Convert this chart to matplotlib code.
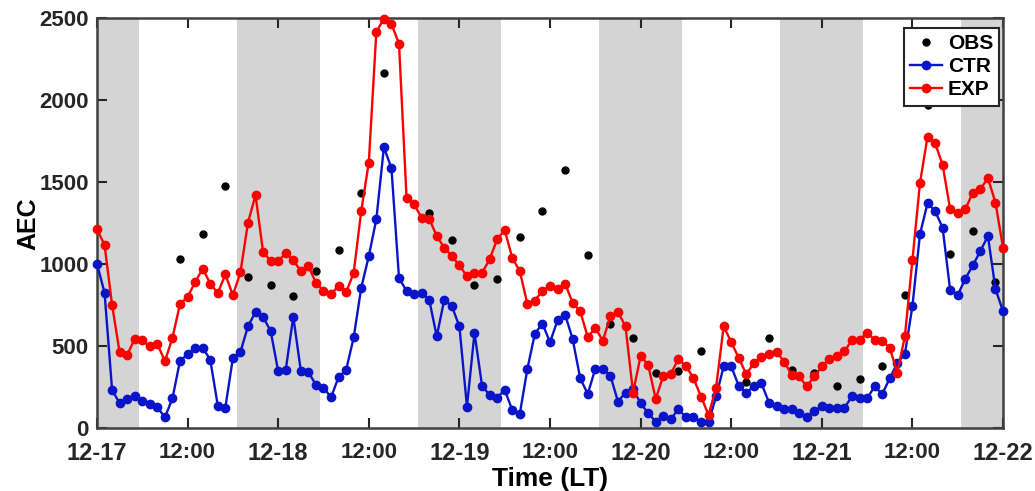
import numpy as np
import matplotlib.pyplot as plt

# hourly AEC values from 12-17 00:00 to 12-22 00:00 (local time)
hours = np.arange(0, 121)

exp_values = [1213, 1119, 753, 463, 447, 547, 537, 500, 514, 410,
              553, 759, 801, 891, 973, 883, 824, 938, 812, 951,
              1254, 1421, 1074, 1022, 1022, 1066, 1025, 958, 989, 887,
              840, 820, 867, 830, 948, 1325, 1620, 2415, 2496, 2464,
              2344, 1406, 1365, 1284, 1278, 1172, 1101, 1050, 993, 928,
              944, 948, 1030, 1152, 1209, 1040, 958, 760, 779, 840,
              867, 850, 883, 765, 714, 557, 612, 535, 683, 710,
              622, 219, 441, 388, 180, 320, 333, 423, 382, 306,
              194, 82, 249, 622, 527, 429, 331, 398, 433, 453,
              467, 408, 327, 317, 256, 317, 378, 423, 439, 469,
              541, 541, 582, 541, 535, 490, 341, 561, 1025, 1494,
              1777, 1738, 1606, 1335, 1315, 1335, 1437, 1458, 1525, 1376,
              1101]

ctr_values = [1003, 828, 235, 154, 180, 195, 170, 150, 129, 68,
              184, 413, 451, 492, 492, 419, 140, 127, 429, 466,
              622, 710, 679, 594, 349, 357, 681, 351, 343, 266,
              249, 190, 313, 357, 555, 857, 1050, 1274, 1712, 1586,
              918, 836, 822, 826, 785, 561, 785, 745, 622, 133,
              582, 260, 204, 188, 235, 113, 89, 362, 578, 639,
              525, 659, 694, 545, 306, 210, 364, 364, 322, 164,
              219, 240, 154, 93, 42, 78, 56, 119, 68, 68,
              42, 38, 195, 378, 378, 260, 215, 260, 276, 158,
              137, 119, 119, 93, 68, 108, 135, 123, 127, 127,
              195, 188, 184, 256, 209, 306, 398, 453, 745, 1183,
              1372, 1325, 1223, 842, 812, 912, 993, 1081, 1172, 850,
              714]

# observations are only every 3 hours
obs_hours = [11, 14, 17, 20, 23, 26, 29, 32, 35, 38,
             44, 47, 50, 53, 56, 59, 62, 65, 68, 71,
             74, 77, 80, 86, 89, 92, 95, 98, 101, 104,
             107, 110, 113, 116, 119]
obs_values = [1034, 1183, 1474, 920, 871, 806, 958, 1087, 1437, 2168,
              1315, 1148, 873, 912, 1166, 1327, 1574, 1054, 637, 551,
              341, 351, 471, 286, 551, 357, 337, 261, 302, 378,
              815, 1973, 1060, 1203, 892]

tick_hours = np.arange(0, 121, 12)
tick_labels = ['12-17', '12:00', '12-18', '12:00', '12-19', '12:00',
               '12-20', '12:00', '12-21', '12:00', '12-22']

# night time (grey background)
sunset = 18.5
sunrise = 5.5

plt.rcParams['font.family'] = ['Liberation Sans', 'DejaVu Sans']
plt.rcParams['font.weight'] = 'bold'

fig = plt.figure(figsize=(10.35, 4.91), dpi=100)
ax = fig.add_axes([0.0937, 0.1273, 0.8754, 0.836])

# grey shading for the nights
ax.axvspan(0, sunrise, color='#d4d4d4', lw=0, zorder=0)
for day in range(5):
    start = day * 24 + sunset
    end = min((day + 1) * 24 + sunrise, 120)
    ax.axvspan(start, end, color='#d4d4d4', lw=0, zorder=0)

ax.plot(obs_hours, obs_values, 'o', color='black', ms=5, label='OBS', clip_on=False, zorder=3)
ax.plot(hours, ctr_values, '-o', color='#0a14c8', lw=1.7, ms=6, label='CTR', clip_on=False, zorder=4)
ax.plot(hours, exp_values, '-o', color='#ff0000', lw=1.7, ms=6, label='EXP', clip_on=False, zorder=5)

ax.set_xlim(0, 120)
ax.set_ylim(0, 2500)
ax.set_xticks(tick_hours)
ax.set_xticklabels(tick_labels)
ax.set_yticks(np.arange(0, 2501, 500))

ax.tick_params(direction='in', length=7, width=1.5, top=True, right=True,
               colors='#262626')
ax.tick_params(axis='x', pad=10, labelsize=17)
ax.tick_params(axis='y', pad=6, labelsize=16)
# the 12:00 labels are a little smaller than the dates
for lab in ax.get_xticklabels()[1::2]:
    lab.set_fontsize(16)
for s in ax.spines.values():
    s.set_linewidth(1.8)
    s.set_color('#404040')

ax.set_xlabel('Time (LT)', fontsize=19, fontweight='bold', labelpad=1)
ax.set_ylabel('AEC', fontsize=18, fontweight='bold', labelpad=-1)

leg = ax.legend(loc='upper right', bbox_to_anchor=(0.996, 0.976), fontsize=15,
                frameon=True, fancybox=False, handlelength=1.5, handletextpad=0.3,
                borderpad=0.3, labelspacing=0.2, borderaxespad=0)
leg.get_frame().set_edgecolor('#262626')
leg.get_frame().set_linewidth(1.5)
leg.get_frame().set_alpha(1)

plt.savefig('out.png', dpi=100)
